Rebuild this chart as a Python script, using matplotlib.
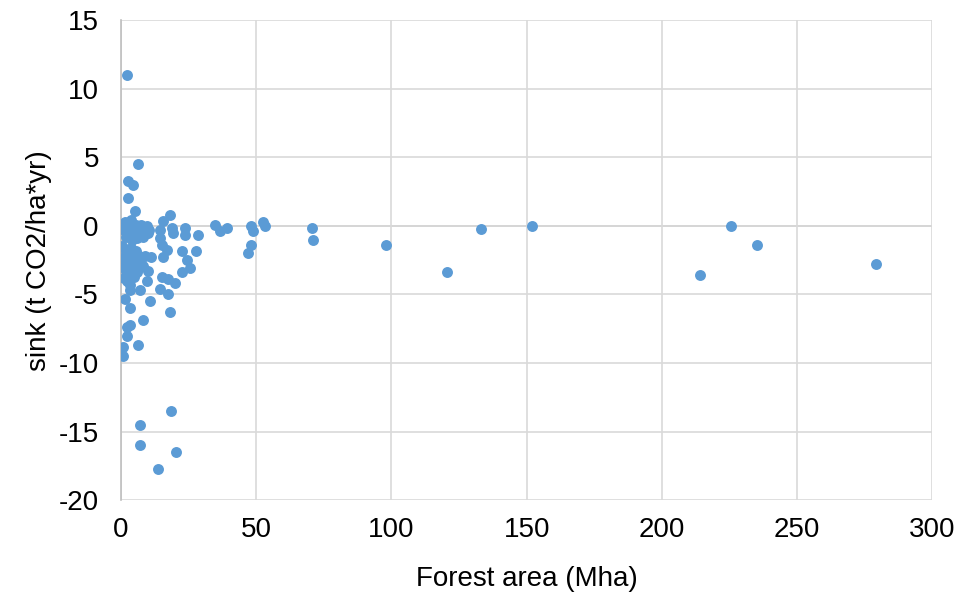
import matplotlib.pyplot as plt

plt.rcParams['font.family'] = ['Liberation Sans', 'DejaVu Sans']
plt.rcParams['axes.unicode_minus'] = False

# forest area (Mha) vs sink (t CO2/ha*yr)
area = [2.2, 6.3, 2.6, 4.4, 2.6, 5.2, 18.1, 15.5, 14.4, 18.9, 19.2, 23.7, 23.7, 28.5,
        34.8, 36.6, 39.2, 14.4, 15.2, 17.0, 22.6, 27.7, 24.4, 25.5, 22.6, 15.5, 10.0,
        15.2, 17.4, 20.0, 9.6, 14.4, 17.4, 10.7, 7.0, 3.3, 1.5, 3.3, 18.1, 8.2, 3.3,
        2.2, 2.2, 6.3, 0.7, 0.7, 48.1, 48.8, 52.5, 53.3, 47.0, 48.1, 70.7, 71.0, 98.0,
        120.6, 133.2, 152.0, 214.2, 225.7, 235.3, 279.3, 18.5, 7.0, 7.0, 20.3, 13.7,
        0.5, 1.5, 2.5, 3.5, 4.5, 5.5, 6.5, 7.5, 8.5, 9.5, 10.5, 1.0, 3.0, 5.0, 7.0, 9.0,
        2.0, 4.0, 6.0, 8.0, 10.0, 0.5, 1.5, 2.5, 3.5, 4.5, 5.5, 6.5, 7.5, 9.0, 1.0, 2.0,
        3.0, 4.0, 5.0, 6.0, 0.8, 1.8, 2.8, 3.8, 4.8, 5.8, 1.2, 2.2, 3.2, 7.0, 8.0, 11.0]
sink = [11.0, 4.5, 3.3, 3.0, 2.0, 1.1, 0.8, 0.35, -0.3, -0.15, -0.5, -0.15, -0.7, -0.7,
        0.07, -0.4, -0.15, -0.9, -1.4, -1.75, -1.8, -1.8, -2.5, -3.1, -3.4, -2.3, -3.3,
        -3.7, -3.9, -4.2, -4.0, -4.6, -5.0, -5.5, -4.7, -4.7, -5.3, -6.0, -6.3, -6.9, -7.2,
        -7.4, -8.0, -8.7, -8.8, -9.5, 0.0, -0.4, 0.3, 0.0, -2.0, -1.4, -0.15, -1.0, -1.4,
        -3.4, -0.2, 0.0, -3.6, 0.0, -1.4, -2.8, -13.5, -14.5, -16.0, -16.5, -17.7,
        0.1, 0.3, 0.2, 0.4, -0.1, 0.1, -0.2, 0.1, -0.1, 0.0, -0.3, -0.3, -0.5, -0.6, -0.4,
        -0.6, -0.8, -1.0, -0.9, -0.8, -0.5, -1.5, -1.7, -1.9, -1.6, -2.0, -1.8, -2.2, -2.3,
        -2.2, -2.3, -2.6, -2.8, -2.5, -2.9, -2.7, -3.0, -3.3, -3.5, -3.2, -3.7, -3.4, -3.8,
        -4.0, -4.3, -3.0, -2.9, -2.3]

fig = plt.figure(figsize=(9.61, 5.96), dpi=100)
ax = fig.add_axes([0.126, 0.161, 0.844, 0.805])

ax.scatter(area, sink, s=62, color="#5B9BD5", zorder=3, linewidths=0)

ax.set_xlim(0, 300)
ax.set_ylim(-20, 15)
ax.set_xticks(range(0, 301, 50))
ax.set_yticks(range(-20, 16, 5))
ax.grid(True, color="#D9D9D9", linewidth=1.2, zorder=0)
ax.axhline(0, color="#BFBFBF", linewidth=1.2, zorder=1)
for s in ["top", "right", "bottom"]:
    ax.spines[s].set_visible(False)
ax.spines["left"].set_color("#BFBFBF")
ax.spines["left"].set_linewidth(1.2)
ax.tick_params(axis="y", length=0, labelsize=20, colors="#000000", pad=16)
ax.tick_params(axis="x", length=0, labelsize=20, colors="#000000", pad=12)

ax.set_xlabel("Forest area (Mha)", fontsize=20, labelpad=17)
ax.set_ylabel("sink (t CO2/ha*yr)", fontsize=20, labelpad=5)

fig.savefig("out.png", dpi=100)
